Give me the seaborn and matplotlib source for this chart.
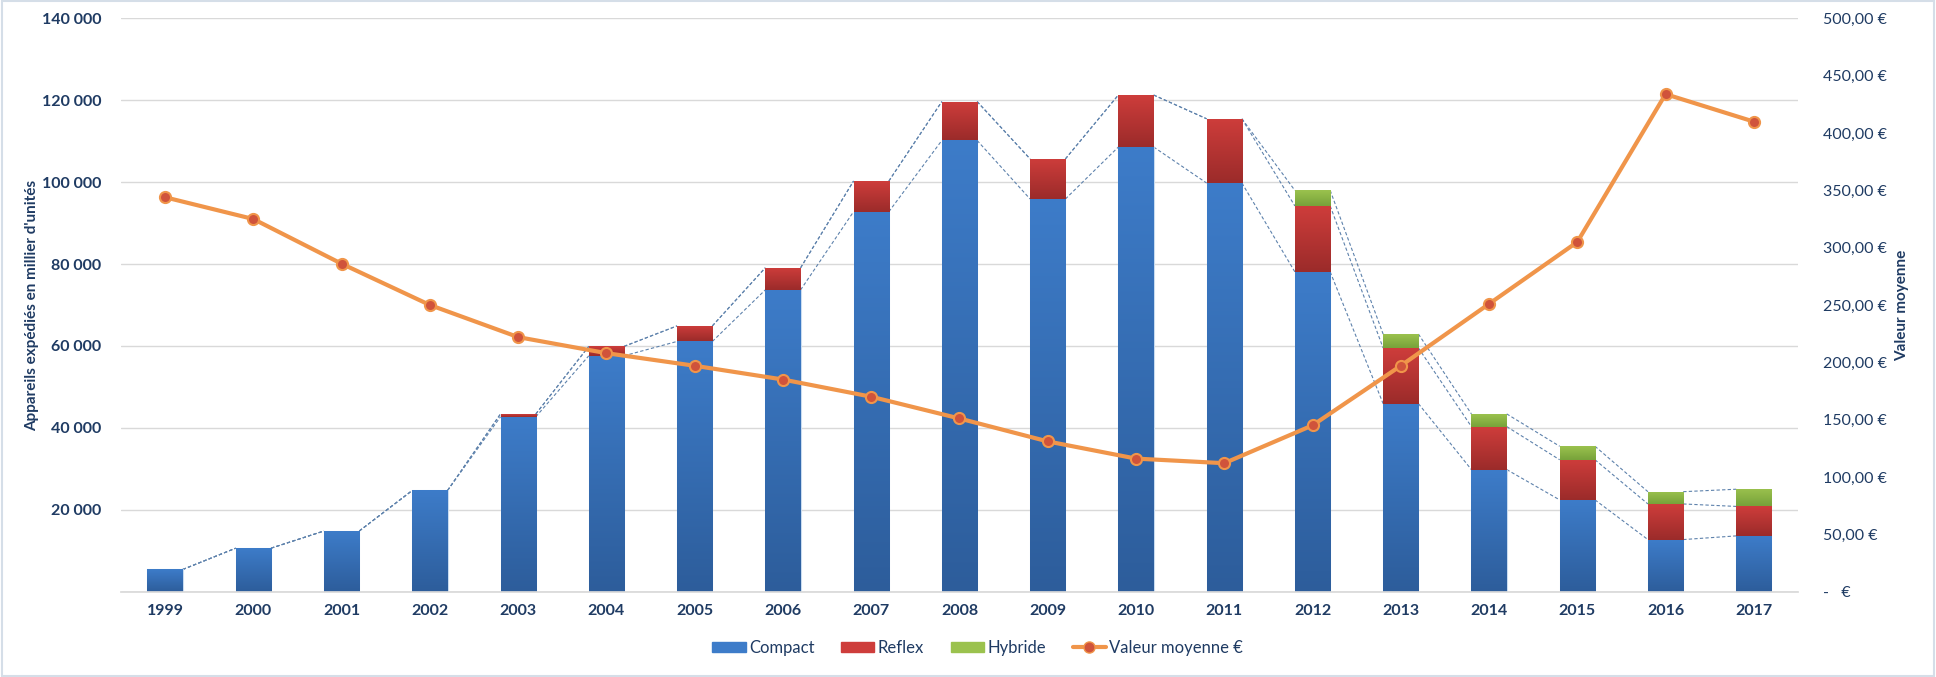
import numpy as np
import seaborn as sns
import matplotlib.pyplot as plt
from matplotlib.colors import LinearSegmentedColormap
from matplotlib.patches import Patch, Rectangle
from matplotlib.lines import Line2D
from matplotlib.ticker import FuncFormatter, MultipleLocator

years = ["1999", "2000", "2001", "2002", "2003", "2004", "2005", "2006", "2007", "2008",
         "2009", "2010", "2011", "2012", "2013", "2014", "2015", "2016", "2017"]
compact = [5400, 10600, 14800, 24700, 42700, 57600, 61100, 73700, 92800, 110200,
           95900, 108600, 99800, 78100, 45900, 29800, 22400, 12700, 13600]
reflex = [0, 0, 0, 0, 700, 2300, 3800, 5400, 7500, 9500,
          9800, 12700, 15700, 16100, 13600, 10500, 9800, 8700, 7200]
hybride = [0, 0, 0, 0, 0, 0, 0, 0, 0, 0,
           0, 0, 0, 3800, 3400, 3100, 3300, 3000, 4200]
valeur_moyenne = [344, 325, 286, 250, 222, 208, 197, 185, 170, 151,
                  131, 116, 112, 145, 197, 251, 305, 434, 410]

sns.set_theme(style="white")
plt.rcParams["font.family"] = ["Lato", "DejaVu Sans"]

navy = "#1F3B63"
blue = ("#3D7CC9", "#2D5D9B")
red = ("#CE3D3B", "#9B2B2A")
green = ("#9BC24E", "#77A23A")
orange = "#F0954A"

x = np.arange(len(years))
c = np.array(compact, dtype=float)
r = np.array(reflex, dtype=float)
h = np.array(hybride, dtype=float)
w = 0.4

fig = plt.figure(figsize=(19.36, 6.77), dpi=100)
ax = fig.add_axes([0.0625, 0.1262, 0.8662, 0.8465])


def gradient(ax, bars, top, bottom):
    cmap = LinearSegmentedColormap.from_list("g", [bottom, top])
    g = np.linspace(0, 1, 256).reshape(-1, 1)
    for p in bars:
        x0, y0, bw, bh = p.get_x(), p.get_y(), p.get_width(), p.get_height()
        if bh <= 0:
            continue
        im = ax.imshow(g, extent=[x0, x0 + bw, y0, y0 + bh], origin="lower",
                       cmap=cmap, aspect="auto", zorder=2.1, interpolation="bicubic")
        im.set_clip_path(p)


b1 = ax.bar(x, c, w, color=blue[0], edgecolor="#C9DCF0", linewidth=0.8, zorder=2)
b2 = ax.bar(x, r, w, bottom=c, color=red[0], linewidth=0, zorder=2)
b3 = ax.bar(x, h, w, bottom=c + r, color=green[0], linewidth=0, zorder=2)
gradient(ax, b1, *blue)
gradient(ax, b2, *red)
gradient(ax, b3, *green)

# series lines between stacked segments
for level in (c, c + r, c + r + h):
    for i in range(len(x) - 1):
        ax.plot([x[i] + w / 2, x[i + 1] - w / 2], [level[i], level[i + 1]],
                ls=(0, (3, 2)), lw=0.8, color="#5E82AC", zorder=1.8)

ax.set_xlim(-0.5, len(x) - 0.5)
ax.set_ylim(0, 140000)
ax.yaxis.set_major_locator(MultipleLocator(20000))
ax.yaxis.set_major_formatter(FuncFormatter(
    lambda v, p: "" if v == 0 else f"{int(v):,}".replace(",", " ")))
ax.grid(axis="y", color="#D9D9D9", lw=1, zorder=0)
ax.set_axisbelow(True)
ax.set_xticks(x)
ax.set_xticklabels(years)
for s in ("top", "left", "right"):
    ax.spines[s].set_visible(False)
ax.spines["bottom"].set_color("#D9D9D9")
ax.tick_params(axis="y", length=0, pad=14, labelsize=11.5, labelcolor=navy)
ax.tick_params(axis="x", length=0, pad=9, labelsize=11.5, labelcolor=navy)
for t in ax.get_xticklabels() + ax.get_yticklabels():
    t.set_fontweight("bold")
ax.set_ylabel("Appareils expédiés en millier d'unités", fontsize=11, fontweight="bold",
              color=navy, labelpad=2)

ax2 = ax.twinx()
sns.lineplot(x=x, y=valeur_moyenne, ax=ax2, color=orange, lw=3, marker="o",
             markersize=8, markerfacecolor="#D0533B", markeredgecolor=orange,
             markeredgewidth=1.5, legend=False, zorder=5)
ax2.set_ylim(0, 500)
ax2.yaxis.set_major_locator(MultipleLocator(50))
ax2.yaxis.set_major_formatter(FuncFormatter(
    lambda v, p: "-   €" if v == 0 else f"{v:.2f} €".replace(".", ",")))
ax2.tick_params(axis="y", length=0, pad=18, labelsize=11.5, labelcolor=navy)
for s in ax2.spines.values():
    s.set_visible(False)
ax2.set_ylabel("Valeur moyenne", fontsize=11, fontweight="bold", color=navy, labelpad=6)

handles = [Patch(color=blue[0], label="Compact"),
           Patch(color=red[0], label="Reflex"),
           Patch(color=green[0], label="Hybride"),
           Line2D([], [], color=orange, lw=3, marker="o", markersize=8,
                  markerfacecolor="#D0533B", markeredgecolor=orange,
                  label="Valeur moyenne €")]
fig.legend(handles=handles, loc="center", bbox_to_anchor=(0.505, 0.043), ncol=4,
           frameon=False, fontsize=12, labelcolor=navy, handlelength=2.0,
           handleheight=0.6, columnspacing=1.6, handletextpad=0.2)

fig.patches.append(Rectangle((0.001, 0.002), 0.998, 0.996, transform=fig.transFigure,
                             fill=False, edgecolor="#D5DEE8", lw=1.5))

fig.savefig("out.png", dpi=100)
